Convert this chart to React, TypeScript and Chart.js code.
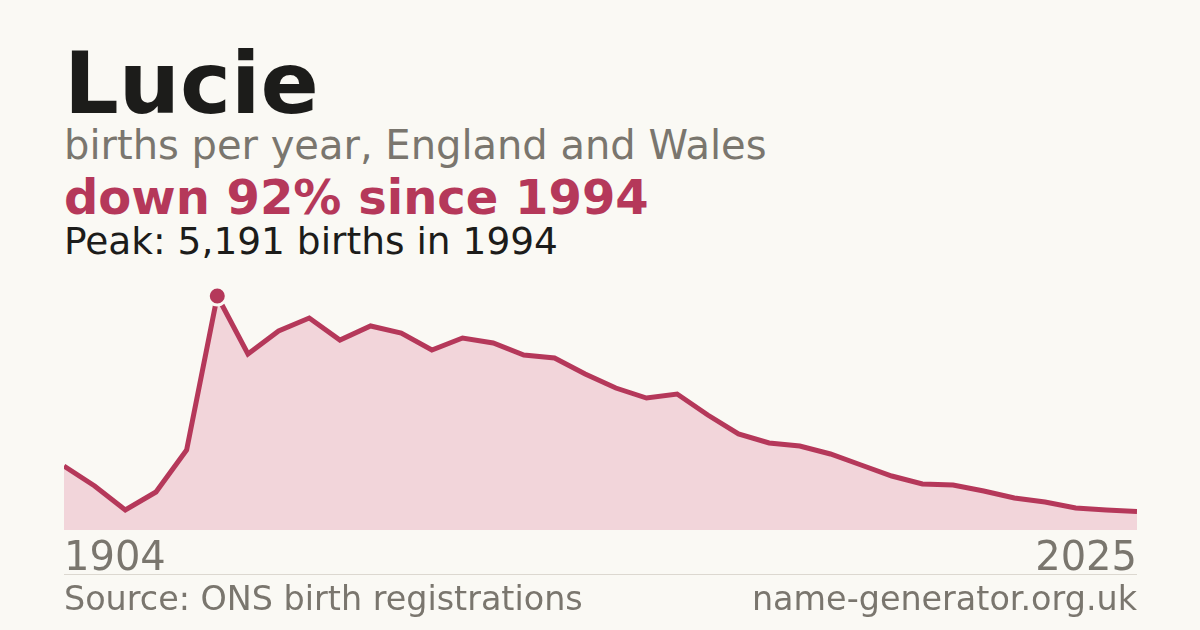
import { useEffect, useRef } from 'react'
import { Chart, registerables } from 'chart.js'

Chart.register(...registerables)

// ─── Data ────────────────────────────────────────────────────────────────────

const YEARS = [
  '1904', '1990', '1991', '1992', '1993', '1994', '1995', '1996', '1997',
  '1998', '1999', '2000', '2001', '2002', '2003', '2004', '2005', '2006',
  '2007', '2008', '2009', '2010', '2011', '2012', '2013', '2014', '2015',
  '2016', '2017', '2018', '2019', '2020', '2021', '2022', '2023', '2025',
]

const BIRTHS = [
  1420, 976, 444, 843, 1775, 5191, 3904, 4415, 4703,
  4215, 4526, 4370, 3993, 4259, 4148, 3882, 3815, 3461,
  3150, 2928, 3017, 2551, 2130, 1930, 1863, 1686, 1442,
  1198, 1020, 998, 865, 710, 621, 488, 444, 410,
]

const PEAK_INDEX = 5
const Y_MAX = 5768

// ─── Palette ─────────────────────────────────────────────────────────────────

const BG = '#faf9f4'
const INK = '#1c1c1a'
const GREY = '#7a766e'
const RED = '#b5385a'
const FILL = '#f2d5da'
const RULE = '#dcd8d0'
const FONT = '"DejaVu Sans", sans-serif'

const AXIS_H = 60

export default function App() {
  const canvasRef = useRef<HTMLCanvasElement>(null)

  useEffect(() => {
    const canvas = canvasRef.current
    if (!canvas) return
    const last = YEARS.length - 1

    const chart = new Chart(canvas, {
      type: 'line',
      data: {
        labels: YEARS,
        datasets: [
          {
            data: BIRTHS,
            borderColor: RED,
            borderWidth: 5,
            borderJoinStyle: 'miter',
            backgroundColor: FILL,
            fill: 'origin',
            tension: 0,
            clip: false,
            pointRadius: BIRTHS.map((_, i) => (i === PEAK_INDEX ? 9 : 0)),
            pointHoverRadius: BIRTHS.map((_, i) => (i === PEAK_INDEX ? 9 : 0)),
            pointBackgroundColor: RED,
            pointBorderColor: BG,
            pointBorderWidth: 3,
          },
        ],
      },
      options: {
        animation: false,
        responsive: false,
        maintainAspectRatio: false,
        layout: { padding: 0, autoPadding: false },
        events: [],
        plugins: { legend: { display: false }, tooltip: { enabled: false } },
        scales: {
          x: {
            type: 'category',
            offset: false,
            grid: { display: false, drawTicks: false },
            border: { display: false },
            afterFit: (scale) => {
              scale.height = AXIS_H
            },
            ticks: {
              autoSkip: false,
              maxRotation: 0,
              align: 'inner',
              padding: 0,
              color: GREY,
              font: { family: FONT, size: 40, lineHeight: 1.5 },
              callback: (_v, i) => (i === 0 || i === last ? YEARS[i] : ''),
            },
          },
          y: {
            display: false,
            min: 0,
            max: Y_MAX,
          },
        },
      },
    })

    return () => chart.destroy()
  }, [])

  const text = (top: number, size: number, color: string, bold = false): React.CSSProperties => ({
    position: 'absolute',
    left: 64,
    top,
    fontSize: size,
    lineHeight: 1,
    fontWeight: bold ? 700 : 400,
    color,
    whiteSpace: 'nowrap',
  })

  return (
    <div
      style={{
        position: 'fixed',
        left: 0,
        top: 0,
        width: 1200,
        height: 630,
        background: BG,
        fontFamily: FONT,
        overflow: 'hidden',
      }}
    >
      <div style={text(40, 86, INK, true)}>Lucie</div>
      <div style={text(125, 40, GREY)}>births per year, England and Wales</div>
      <div style={text(173, 48, RED, true)}>down 92% since 1994</div>
      <div style={text(222.5, 37.5, INK)}>Peak: 5,191 births in 1994</div>

      <div style={{ position: 'absolute', left: 64, top: 574, width: 1073, height: 1, background: RULE }} />

      <canvas
        ref={canvasRef}
        width={1073}
        height={260 + AXIS_H}
        style={{ position: 'absolute', left: 64, top: 270, width: 1073, height: 260 + AXIS_H }}
      />

      <div style={text(582, 33.4, GREY)}>Source: ONS birth registrations</div>
      <div style={{ ...text(582, 33.4, GREY), left: 'auto', right: 63 }}>name-generator.org.uk</div>
    </div>
  )
}
